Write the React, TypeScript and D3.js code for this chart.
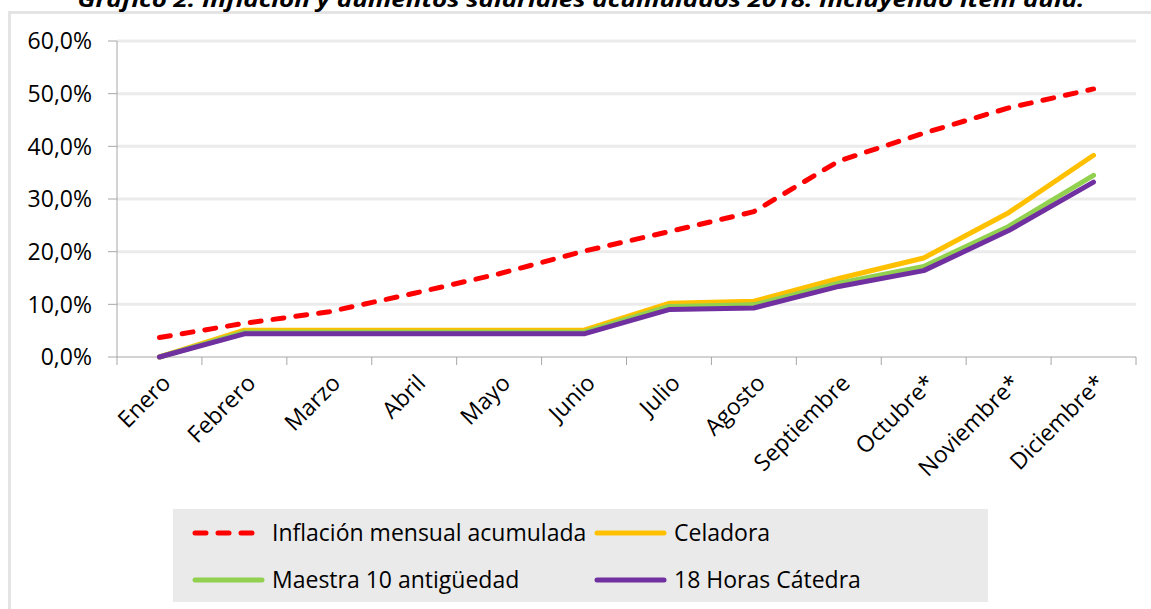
import React from "react";
import * as d3 from "d3";

const months = ["Enero", "Febrero", "Marzo", "Abril", "Mayo", "Junio", "Julio", "Agosto", "Septiembre", "Octubre*", "Noviembre*", "Diciembre*"];
const inflacion = [3.7, 6.4, 8.6, 12.1, 15.8, 20.1, 23.8, 27.6, 37.2, 42.5, 47.3, 50.9];
const celadora = [0, 5.1, 5.1, 5.1, 5.1, 5.1, 10.2, 10.6, 14.9, 18.8, 27.4, 38.3];
const maestra = [0, 4.7, 4.7, 4.7, 4.7, 4.7, 9.6, 9.9, 14.0, 17.2, 24.8, 34.5];
const horasCatedra = [0, 4.4, 4.4, 4.4, 4.4, 4.4, 9.0, 9.3, 13.4, 16.4, 24.0, 33.2];
const yTicks = [0, 10, 20, 30, 40, 50, 60];

const seriesList = [
  { name: "Inflación mensual acumulada", values: inflacion, color: "#FF0000", dashed: true },
  { name: "Celadora", values: celadora, color: "#FFC000", dashed: false },
  { name: "Maestra 10 antigüedad", values: maestra, color: "#92D050", dashed: false },
  { name: "18 Horas Cátedra", values: horasCatedra, color: "#7030A0", dashed: false },
];

const title = "Gráfico 2: Inflación y aumentos salariales acumulados 2018. Incluyendo ítem aula.";
const font = "'Open Sans', sans-serif";
const dash = "11 12";

export default function App() {
  const width = 1151;
  const height = 609;
  const plot = { left: 117, right: 1136, top: 41, bottom: 357 };

  const x = d3.scaleBand<string>().domain(months).range([plot.left, plot.right]);
  const y = d3.scaleLinear().domain([0, 60]).range([plot.bottom, plot.top]);
  const cx = (m: string) => (x(m) as number) + x.bandwidth() / 2;

  const line = d3
    .line<number>()
    .x((_, i) => cx(months[i]))
    .y((v) => y(v));

  const fmt = (v: number) => v.toFixed(1).replace(".", ",") + "%";

  // legend layout (2 x 2 grid)
  const legendCols = [195, 597];
  const legendRows = [533, 580];

  return (
    <div style={{ position: "absolute", left: 0, top: 0 }}>
      <svg width={width} height={height} style={{ display: "block", fontFamily: font }}>
        <rect x={0} y={0} width={width} height={height} fill="#fff" />
        {/* chart area frame */}
        <rect x={9.5} y={12.5} width={width + 20} height={height + 20} fill="#fff" stroke="#E4E4E4" strokeWidth={3} />

        <text
          x={581}
          y={7}
          textAnchor="middle"
          fontSize={22}
          fontWeight="bold"
          fontStyle="italic"
          fill="#000"
          textLength={1007}
          lengthAdjust="spacingAndGlyphs"
        >
          {title}
        </text>

        {/* gridlines */}
        {yTicks.filter((t) => t > 0).map((t) => (
          <line key={t} x1={plot.left} x2={plot.right} y1={y(t)} y2={y(t)} stroke="#EBEBEB" strokeWidth={3} />
        ))}

        {/* y axis */}
        <line x1={plot.left} x2={plot.left} y1={plot.top} y2={plot.bottom} stroke="#A6A6A6" strokeWidth={1} />
        {yTicks.map((t) => (
          <g key={t}>
            <line x1={plot.left - 9} x2={plot.left} y1={y(t)} y2={y(t)} stroke="#A6A6A6" strokeWidth={1} />
            <text x={92} y={y(t)} dy="0.36em" textAnchor="end" fontSize={23} fill="#000">
              {fmt(t)}
            </text>
          </g>
        ))}

        {/* x axis */}
        <line x1={plot.left} x2={plot.right} y1={plot.bottom} y2={plot.bottom} stroke="#A6A6A6" strokeWidth={1} />
        {[...months.map((m) => x(m) as number), plot.right].map((t, i) => (
          <line key={i} x1={t} x2={t} y1={plot.bottom} y2={plot.bottom + 8} stroke="#A6A6A6" strokeWidth={1} />
        ))}
        {months.map((m) => (
          <text
            key={m}
            transform={`translate(${cx(m) + 1},${plot.bottom + 16}) rotate(-45)`}
            dy="0.71em"
            textAnchor="end"
            fontSize={23}
            fill="#000"
          >
            {m}
          </text>
        ))}

        {/* series */}
        {seriesList.map((s) => (
          <path
            key={s.name}
            d={line(s.values) as string}
            fill="none"
            stroke={s.color}
            strokeWidth={5}
            strokeLinejoin="round"
            strokeLinecap="round"
            strokeDasharray={s.dashed ? dash : undefined}
          />
        ))}

        {/* legend */}
        <rect x={173} y={509} width={815} height={93} fill="#EAEAEA" />
        {seriesList.map((s, i) => {
          const lx = legendCols[i % 2];
          const ly = legendRows[Math.floor(i / 2)];
          return (
            <g key={s.name}>
              <line
                x1={lx}
                x2={lx + 67}
                y1={ly}
                y2={ly}
                stroke={s.color}
                strokeWidth={5}
                strokeLinecap="round"
                strokeDasharray={s.dashed ? dash : undefined}
              />
              <text x={lx + 77} y={ly} dy="0.36em" fontSize={23} fill="#000">
                {s.name}
              </text>
            </g>
          );
        })}
      </svg>
    </div>
  );
}
